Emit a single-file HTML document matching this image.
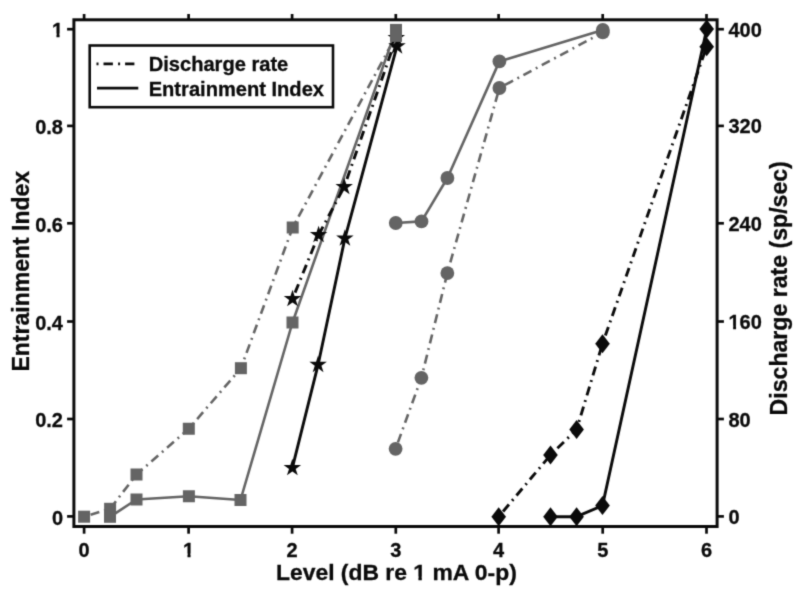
<!DOCTYPE html>
<html lang="en">
<head>
<meta charset="utf-8">
<title>Entrainment Index and Discharge rate vs Level</title>
<style>
html,body{margin:0;padding:0;background:#fff;}
body{width:800px;height:596px;overflow:hidden;}
svg{display:block;}
text{font-family:"Liberation Sans",Arial,Helvetica,sans-serif;font-weight:bold;fill:#0a0a0a;stroke:#0a0a0a;stroke-width:0.3px;}
.tick{font-size:20px;}
.axl{font-size:23.1px;}
.leg{font-size:20.1px;}
</style>
</head>
<body>
<svg width="800" height="596" viewBox="0 0 800 596">
<defs>
<filter id="soft" x="0" y="0" width="800" height="596" filterUnits="userSpaceOnUse" color-interpolation-filters="sRGB">
<feConvolveMatrix order="3" kernelMatrix="1 4 1 4 20 4 1 4 1" divisor="40" edgeMode="duplicate" preserveAlpha="true"/>
</filter>
</defs>
<g filter="url(#soft)">
<rect x="0" y="0" width="800" height="596" fill="#ffffff"/>

<g fill="none" stroke-linejoin="round">
<polyline points="84.10,516.70 110.10,508.80 136.50,474.50 188.80,428.75 240.90,368.20 292.70,227.50 396.00,35.90" stroke="#646464" stroke-width="2.6" stroke-dasharray="1.9 4.9 9.1 4.95"/>
<polyline points="110.00,516.80 136.50,499.50 188.90,496.25 240.50,500.00 292.50,322.50 396.00,29.90" stroke="#646464" stroke-width="2.6"/>
<polyline points="395.60,448.80 421.40,377.80 447.35,273.10 499.40,88.00 602.80,32.40" stroke="#646464" stroke-width="2.6" stroke-dasharray="1.9 4.9 9.1 4.95"/>
<polyline points="395.75,223.00 421.50,221.40 447.40,178.00 499.40,61.40 602.80,30.00" stroke="#646464" stroke-width="2.6"/>
<polyline points="292.50,298.90 318.60,234.90 344.20,186.90 396.30,37.80" stroke="#0a0a0a" stroke-width="2.9" stroke-dasharray="1.9 4.9 9.1 4.95"/>
<polyline points="292.35,467.90 318.10,364.70 344.90,238.40 397.00,46.20" stroke="#0a0a0a" stroke-width="2.9"/>
<polyline points="498.70,516.70 550.50,455.00 576.60,429.60 602.50,343.75 706.70,46.70" stroke="#0a0a0a" stroke-width="2.9" stroke-dasharray="1.9 4.9 9.1 4.95"/>
<polyline points="550.50,516.80 576.60,516.70 602.50,505.60 706.70,29.10" stroke="#0a0a0a" stroke-width="2.9"/>
</g>
<g>
<polygon points="292.50,289.70 294.56,296.07 301.25,296.06 295.83,299.98 297.91,306.34 292.50,302.40 287.09,306.34 289.17,299.98 283.75,296.06 290.44,296.07" fill="#0a0a0a"/>
<polygon points="318.60,225.70 320.66,232.07 327.35,232.06 321.93,235.98 324.01,242.34 318.60,238.40 313.19,242.34 315.27,235.98 309.85,232.06 316.54,232.07" fill="#0a0a0a"/>
<polygon points="344.20,177.70 346.26,184.07 352.95,184.06 347.53,187.98 349.61,194.34 344.20,190.40 338.79,194.34 340.87,187.98 335.45,184.06 342.14,184.07" fill="#0a0a0a"/>
<polygon points="396.30,28.60 398.36,34.97 405.05,34.96 399.63,38.88 401.71,45.24 396.30,41.30 390.89,45.24 392.97,38.88 387.55,34.96 394.24,34.97" fill="#0a0a0a"/>
<polygon points="292.35,458.70 294.41,465.07 301.10,465.06 295.68,468.98 297.76,475.34 292.35,471.40 286.94,475.34 289.02,468.98 283.60,465.06 290.29,465.07" fill="#0a0a0a"/>
<polygon points="318.10,355.50 320.16,361.87 326.85,361.86 321.43,365.78 323.51,372.14 318.10,368.20 312.69,372.14 314.77,365.78 309.35,361.86 316.04,361.87" fill="#0a0a0a"/>
<polygon points="344.90,229.20 346.96,235.57 353.65,235.56 348.23,239.48 350.31,245.84 344.90,241.90 339.49,245.84 341.57,239.48 336.15,235.56 342.84,235.57" fill="#0a0a0a"/>
<polygon points="397.00,37.00 399.06,43.37 405.75,43.36 400.33,47.28 402.41,53.64 397.00,49.70 391.59,53.64 393.67,47.28 388.25,43.36 394.94,43.37" fill="#0a0a0a"/>
<polygon points="498.70,507.20 506.00,516.70 498.70,526.20 491.40,516.70" fill="#0a0a0a"/>
<polygon points="550.50,445.50 557.80,455.00 550.50,464.50 543.20,455.00" fill="#0a0a0a"/>
<polygon points="576.60,420.10 583.90,429.60 576.60,439.10 569.30,429.60" fill="#0a0a0a"/>
<polygon points="602.50,334.25 609.80,343.75 602.50,353.25 595.20,343.75" fill="#0a0a0a"/>
<polygon points="706.70,37.20 714.00,46.70 706.70,56.20 699.40,46.70" fill="#0a0a0a"/>
<polygon points="550.50,507.30 557.80,516.80 550.50,526.30 543.20,516.80" fill="#0a0a0a"/>
<polygon points="576.60,507.20 583.90,516.70 576.60,526.20 569.30,516.70" fill="#0a0a0a"/>
<polygon points="602.50,496.10 609.80,505.60 602.50,515.10 595.20,505.60" fill="#0a0a0a"/>
<polygon points="706.70,19.60 714.00,29.10 706.70,38.60 699.40,29.10" fill="#0a0a0a"/>
<rect x="78.10" y="510.70" width="12.0" height="12.0" fill="#646464"/>
<rect x="104.10" y="502.80" width="12.0" height="12.0" fill="#646464"/>
<rect x="130.50" y="468.50" width="12.0" height="12.0" fill="#646464"/>
<rect x="182.80" y="422.75" width="12.0" height="12.0" fill="#646464"/>
<rect x="234.90" y="362.20" width="12.0" height="12.0" fill="#646464"/>
<rect x="286.70" y="221.50" width="12.0" height="12.0" fill="#646464"/>
<rect x="390.00" y="29.90" width="12.0" height="12.0" fill="#646464"/>
<rect x="104.00" y="510.80" width="12.0" height="12.0" fill="#646464"/>
<rect x="130.50" y="493.50" width="12.0" height="12.0" fill="#646464"/>
<rect x="182.90" y="490.25" width="12.0" height="12.0" fill="#646464"/>
<rect x="234.50" y="494.00" width="12.0" height="12.0" fill="#646464"/>
<rect x="286.50" y="316.50" width="12.0" height="12.0" fill="#646464"/>
<rect x="390.00" y="23.90" width="12.0" height="12.0" fill="#646464"/>
<circle cx="395.60" cy="448.80" r="6.9" fill="#646464"/>
<circle cx="421.40" cy="377.80" r="6.9" fill="#646464"/>
<circle cx="447.35" cy="273.10" r="6.9" fill="#646464"/>
<circle cx="499.40" cy="88.00" r="6.9" fill="#646464"/>
<circle cx="602.80" cy="32.40" r="6.9" fill="#646464"/>
<circle cx="395.75" cy="223.00" r="6.9" fill="#646464"/>
<circle cx="421.50" cy="221.40" r="6.9" fill="#646464"/>
<circle cx="447.40" cy="178.00" r="6.9" fill="#646464"/>
<circle cx="499.40" cy="61.40" r="6.9" fill="#646464"/>
<circle cx="602.80" cy="30.00" r="6.9" fill="#646464"/>
</g>
<rect x="73.9" y="19.8" width="643.20" height="506.70" fill="none" stroke="#0a0a0a" stroke-width="3.0"/>
<g stroke="#0a0a0a" stroke-width="2.7">
<line x1="84.10" y1="526.5" x2="84.10" y2="533.7"/>
<line x1="84.10" y1="19.8" x2="84.10" y2="14.0"/>
<line x1="188.60" y1="526.5" x2="188.60" y2="533.7"/>
<line x1="188.60" y1="19.8" x2="188.60" y2="14.0"/>
<line x1="292.10" y1="526.5" x2="292.10" y2="533.7"/>
<line x1="292.10" y1="19.8" x2="292.10" y2="14.0"/>
<line x1="395.80" y1="526.5" x2="395.80" y2="533.7"/>
<line x1="395.80" y1="19.8" x2="395.80" y2="14.0"/>
<line x1="498.60" y1="526.5" x2="498.60" y2="533.7"/>
<line x1="498.60" y1="19.8" x2="498.60" y2="14.0"/>
<line x1="602.70" y1="526.5" x2="602.70" y2="533.7"/>
<line x1="602.70" y1="19.8" x2="602.70" y2="14.0"/>
<line x1="706.50" y1="526.5" x2="706.50" y2="533.7"/>
<line x1="706.50" y1="19.8" x2="706.50" y2="14.0"/>
<line x1="73.9" y1="516.40" x2="67.10000000000001" y2="516.40"/>
<line x1="717.1" y1="516.40" x2="723.9" y2="516.40"/>
<line x1="73.9" y1="419.00" x2="67.10000000000001" y2="419.00"/>
<line x1="717.1" y1="419.00" x2="723.9" y2="419.00"/>
<line x1="73.9" y1="321.50" x2="67.10000000000001" y2="321.50"/>
<line x1="717.1" y1="321.50" x2="723.9" y2="321.50"/>
<line x1="73.9" y1="223.30" x2="67.10000000000001" y2="223.30"/>
<line x1="717.1" y1="223.30" x2="723.9" y2="223.30"/>
<line x1="73.9" y1="125.90" x2="67.10000000000001" y2="125.90"/>
<line x1="717.1" y1="125.90" x2="723.9" y2="125.90"/>
<line x1="73.9" y1="29.20" x2="67.10000000000001" y2="29.20"/>
<line x1="717.1" y1="29.20" x2="723.9" y2="29.20"/>
</g>
<g class="tick">
<text x="84.10" y="556.6" text-anchor="middle">0</text>
<text x="188.60" y="556.6" text-anchor="middle">1</text>
<text x="292.10" y="556.6" text-anchor="middle">2</text>
<text x="395.80" y="556.6" text-anchor="middle">3</text>
<text x="498.60" y="556.6" text-anchor="middle">4</text>
<text x="602.70" y="556.6" text-anchor="middle">5</text>
<text x="706.50" y="556.6" text-anchor="middle">6</text>
<text x="63.0" y="524.60" text-anchor="end">0</text>
<text x="728.4" y="523.90" text-anchor="start">0</text>
<text x="63.0" y="427.20" text-anchor="end">0.2</text>
<text x="728.4" y="426.50" text-anchor="start">80</text>
<text x="63.0" y="329.70" text-anchor="end">0.4</text>
<text x="728.4" y="329.00" text-anchor="start">160</text>
<text x="63.0" y="231.50" text-anchor="end">0.6</text>
<text x="728.4" y="230.80" text-anchor="start">240</text>
<text x="63.0" y="134.10" text-anchor="end">0.8</text>
<text x="728.4" y="133.40" text-anchor="start">320</text>
<text x="63.0" y="37.40" text-anchor="end">1</text>
<text x="728.4" y="36.70" text-anchor="start">400</text>
</g>
<g class="axl">
<text x="396.4" y="580.3" text-anchor="middle" style="font-size:22.9px">Level (dB re 1 mA 0-p)</text>
<text transform="translate(28.7,271.2) rotate(-90)" text-anchor="middle" style="font-size:23px">Entrainment Index</text>
<text transform="translate(786.6,288.3) rotate(-90)" text-anchor="middle">Discharge rate (sp/sec)</text>
</g>
<rect x="89.7" y="45.5" width="243.3" height="61.7" fill="#ffffff" stroke="#0a0a0a" stroke-width="2.6"/>
<line x1="96.5" y1="63.8" x2="134.4" y2="63.8" stroke="#0a0a0a" stroke-width="2.8" stroke-dasharray="2 5 9.4 5.2"/>
<line x1="97" y1="88.1" x2="138.3" y2="88.1" stroke="#0a0a0a" stroke-width="2.8"/>
<g class="leg">
<text x="148.7" y="71.2">Discharge rate</text>
<text x="148.7" y="95.5">Entrainment Index</text>
</g>
<g>
<rect x="183.50" y="553.50" width="3.98" height="5.00" fill="#ffffff"/>
<rect x="190.58" y="553.50" width="3.92" height="5.00" fill="#ffffff"/>
<rect x="52.50" y="33.50" width="3.98" height="5.00" fill="#ffffff"/>
<rect x="59.58" y="33.50" width="3.92" height="5.00" fill="#ffffff"/>
<rect x="728.50" y="325.50" width="4.64" height="5.00" fill="#ffffff"/>
<rect x="736.06" y="325.50" width="4.44" height="5.00" fill="#ffffff"/>
<rect x="413.50" y="576.50" width="4.92" height="5.00" fill="#ffffff"/>
<rect x="421.80" y="576.50" width="4.70" height="5.00" fill="#ffffff"/>
</g>
</g>
</svg>
</body>
</html>
